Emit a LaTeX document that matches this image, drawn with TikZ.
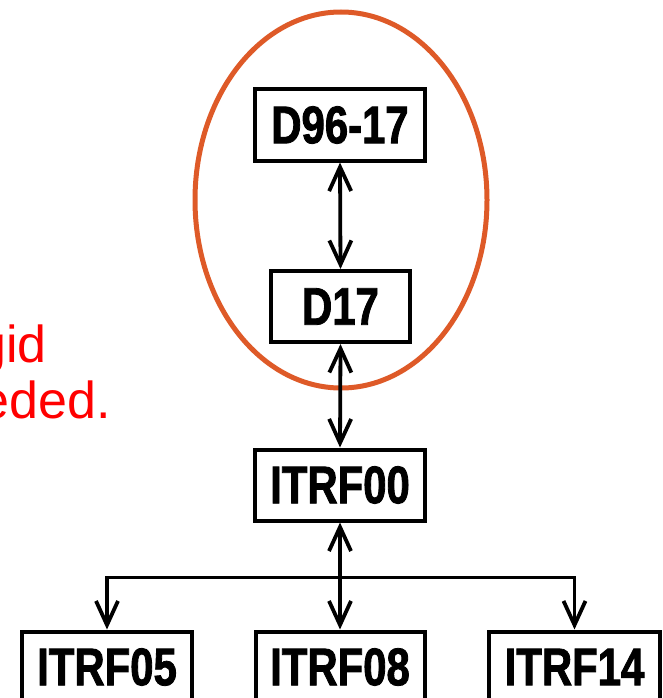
\documentclass[tikz,border=0pt]{standalone}
\usepackage{fontspec}
\setmainfont{Liberation Sans}
\newfontfamily\boxfont{Liberation Sans}[FakeStretch=0.79, FakeBold=1.6]
\usetikzlibrary{arrows.meta}
\definecolor{ringorange}{RGB}{222,90,40}
\tikzset{
  frame/.style={draw=black, line width=4pt, fill=white, inner sep=0pt,
    minimum height=71pt, font=\boxfont\bfseries\fontsize{53}{53}\selectfont},
  conn/.style={line width=3.8pt, line cap=butt,
    arrows={Straight Barb[length=24pt,width=22pt,line width=3.8pt]-Straight Barb[length=24pt,width=22pt,line width=3.8pt]}},
  connend/.style={line width=3.8pt,
    -{Straight Barb[length=24pt,width=22pt,line width=3.8pt]}},
  note/.style={text=red, inner sep=0pt, anchor=base east,
    font=\fontsize{52}{56}\selectfont}
}
\begin{document}
\begin{tikzpicture}[x=1pt, y=-1pt]
  \useasboundingbox (0,0) rectangle (662,698);

  % grouping ring around the two local frames
  \draw[ringorange, line width=5pt] (341,200) ellipse [x radius=146, y radius=188];

  % reference frames
  \node[frame, minimum width=170pt] (d9617) at (340,125) {D96-17};
  \node[frame, minimum width=139pt] (d17)   at (340.5,306.5) {D17};
  \node[frame, minimum width=170pt] (itrf00) at (340,485) {ITRF00};
  \node[frame, minimum width=170pt] (itrf05) at (107,667) {ITRF05};
  \node[frame, minimum width=169pt] (itrf08) at (340,667) {ITRF08};
  \node[frame, minimum width=171pt] (itrf14) at (574.5,667) {ITRF14};

  % connections
  \draw[conn] (d9617.south) -- (d17.north);
  \draw[conn] (d17.south) -- (itrf00.north);
  \draw[conn] (itrf00.south) -- (itrf08.north);
  \coordinate (split) at (340,577.5);
  \draw[connend] (split) -| (itrf05.north);
  \draw[connend] (split) -| (itrf14.north);

  % remark text
  \node[note] (n1) at (47,362) {gid};
  \node[note] (n2) at (111,418) {eded.};
\end{tikzpicture}
\end{document}
